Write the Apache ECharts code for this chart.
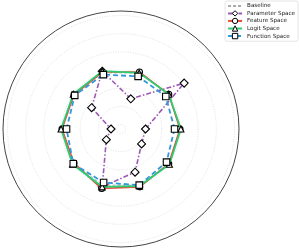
<!DOCTYPE html>
<html><head><meta charset="utf-8">
<script src="https://cdn.jsdelivr.net/npm/echarts@6/dist/echarts.min.js"></script>
<style>html,body{margin:0;padding:0;background:#fff}#c{width:299px;height:251px}</style>
</head><body><div id="c"></div>
<script>
// axis angles (degrees, counterclockwise from east)
var angles = [0, 36, 72, 108, 144, 180, 216, 252, 288, 324];
var gridTicks = [0, 0.2, 0.4, 0.6, 0.8, 1.0, 1.2];
var seriesNames = ['Baseline', 'Parameter Space', 'Feature Space', 'Logit Space', 'Function Space'];
var baseline  = [0.60, 0.60, 0.60, 0.60, 0.60, 0.60, 0.60, 0.60, 0.60, 0.60];
var parameter = [0.22, 0.81, 0.30, 0.62, 0.35, 0.06, 0.15, 0.62, 0.45, 0.23];
var feature   = [0.60, 0.60, 0.61, 0.61, 0.59, 0.60, 0.59, 0.64, 0.62, 0.60];
var logit     = [0.61, 0.60, 0.60, 0.62, 0.60, 0.61, 0.61, 0.62, 0.61, 0.61];
var functionS = [0.54, 0.56, 0.56, 0.58, 0.58, 0.55, 0.60, 0.57, 0.60, 0.57];

function closed(vals) {
  var d = vals.map(function (v, i) { return [v, angles[i]]; });
  d.push({ value: [vals[0], 360], symbol: 'none' });
  return d;
}
var mk = { color: '#fff', borderColor: '#000', borderWidth: 1.1 };
function ser(name, vals, color, type, width, symbol, size, z) {
  return {
    name: name, type: 'line', coordinateSystem: 'polar', data: closed(vals),
    symbol: symbol, symbolSize: size, showSymbol: symbol !== 'none',
    lineStyle: { color: color, width: width, type: type },
    itemStyle: symbol === 'none' ? { color: color } : mk,
    z: z, animation: false
  };
}
var legendData = seriesNames.map(function (n, i) {
  if (i === 0) return { name: n, itemStyle: { opacity: 0 } };
  return { name: n, itemStyle: { color: '#fff', borderColor: '#000', borderWidth: 1 } };
});
var chart = echarts.init(document.getElementById('c'), null, { renderer: 'canvas' });
chart.setOption({
  animation: false,
  polar: { center: [121, 129], radius: 118 },
  angleAxis: {
    type: 'value', min: 0, max: 360, startAngle: 0, clockwise: false,
    axisLine: { show: true, lineStyle: { color: '#444', width: 1 } },
    axisTick: { show: false }, axisLabel: { show: false }, splitLine: { show: false }
  },
  radiusAxis: {
    type: 'value', min: -0.05, max: 1.25,
    axisLine: { show: false }, axisLabel: { show: false },
    axisTick: { show: false, customValues: gridTicks },
    splitLine: { show: true, lineStyle: { color: '#d8d8d8', width: 0.8, type: [1, 1.5] } }
  },
  legend: {
    orient: 'vertical', right: 1, top: 1,
    backgroundColor: '#fff', borderColor: '#ddd', borderWidth: 0.8, borderRadius: 2,
    padding: [2, 3, 2, 2], itemGap: 1.2, itemWidth: 14, itemHeight: 6.7,
    textStyle: { fontSize: 5.6, fontFamily: 'DejaVu Sans', color: '#222' },
    data: legendData
  },
  series: [
    ser(seriesNames[0], baseline, '#aaaaaa', [3, 2], 1, 'none', 0, 1),
    ser(seriesNames[1], parameter, '#9b59b6', [5, 2, 1.5, 2], 1.6, 'diamond', 8, 2),
    ser(seriesNames[2], feature, '#e74c3c', 'solid', 1.6, 'circle', 6, 3),
    ser(seriesNames[3], logit, '#2ecc71', 'solid', 1.8, 'triangle', 6, 4),
    ser(seriesNames[4], functionS, '#3498db', [5, 3], 1.8, 'rect', 6.5, 5)
  ]
});
</script></body></html>
